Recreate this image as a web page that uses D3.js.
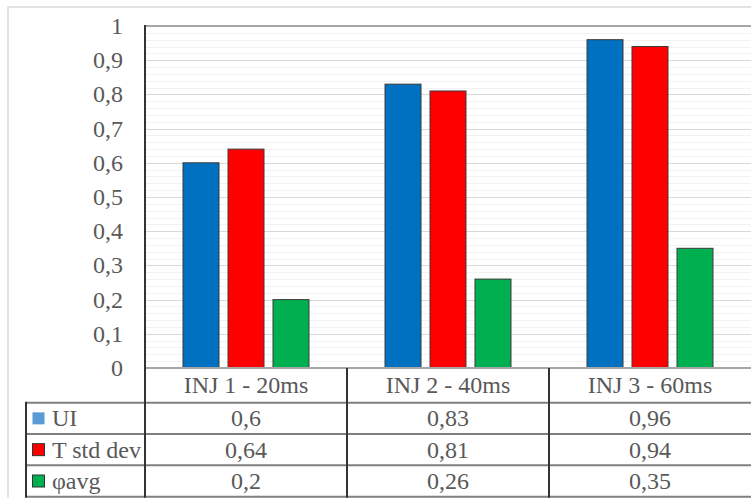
<!DOCTYPE html>
<html>
<head>
<meta charset="utf-8">
<script src="https://cdn.jsdelivr.net/npm/d3@7"></script>
</head>
<body style="margin:0;background:#fff">
<svg id="chart" width="751" height="498" style="display:block"></svg>
<script>
// Injection categories and series
const categories = ["INJ 1 - 20ms", "INJ 2 - 40ms", "INJ 3 - 60ms"];
const seriesNames = ["UI", "T std dev", "φavg"];
const uiValues = [0.6, 0.83, 0.96];
const tStdValues = [0.64, 0.81, 0.94];
const phiValues = [0.2, 0.26, 0.35];
const barColors = ["#0070C0", "#FF0000", "#00B050"];
const keyColors = ["#5B9BD5", "#FF0000", "#00B050"];
const yTicks = [0, 0.1, 0.2, 0.3, 0.4, 0.5, 0.6, 0.7, 0.8, 0.9, 1];

const series = seriesNames.map((name, i) => ({
  name,
  values: [uiValues, tStdValues, phiValues][i],
  bar: barColors[i],
  key: keyColors[i]
}));

const svg = d3.select("#chart");
const W = 751, H = 498;
const textColor = "#595959";
const serif = "Liberation Serif";
const fontSize = 24;

// shared text styling
const styleText = sel => sel
  .attr("font-family", serif)
  .style("font-family", serif)
  .attr("font-size", fontSize)
  .attr("fill", textColor);

// plot area and data table geometry
const plotLeft = 145, plotRight = 751, plotTop = 26, plotBottom = 368;
const tableLeft = 26;
const rowEdges = [368, 402.7, 434, 465.3, 496.7];

// outer chart frame
svg.append("rect").attr("x", 8).attr("y", 7).attr("width", W).attr("height", H)
  .attr("fill", "none").attr("stroke", "#d9d9d9").attr("stroke-width", 1.5);

const y = d3.scaleLinear().domain([0, 1]).range([plotBottom, plotTop]);
const x0 = d3.scaleBand().domain(categories).range([plotLeft, plotRight]).paddingInner(0).paddingOuter(0);

// minor gridlines
const minor = d3.range(0, 1.0001, 0.02);
svg.append("g").selectAll("line").data(minor).join("line")
  .attr("x1", plotLeft).attr("x2", plotRight)
  .attr("y1", d => Math.round(y(d)) + 0.5).attr("y2", d => Math.round(y(d)) + 0.5)
  .attr("stroke", "#f2f2f2").attr("stroke-width", 1);

// major gridlines
svg.append("g").selectAll("line").data(yTicks.slice(1, -1)).join("line")
  .attr("x1", plotLeft).attr("x2", plotRight)
  .attr("y1", d => Math.round(y(d)) + 0.5).attr("y2", d => Math.round(y(d)) + 0.5)
  .attr("stroke", "#d9d9d9").attr("stroke-width", 1);

// top line at 1
svg.append("line").attr("x1", plotLeft).attr("x2", plotRight)
  .attr("y1", y(1)).attr("y2", y(1)).attr("stroke", "#a6a6a6").attr("stroke-width", 2);

// y-axis tick labels
const fmt = v => d3.format("~g")(v).replace(".", ",");
svg.append("g").selectAll("text").data(yTicks).join("text")
  .attr("x", 123).attr("y", d => y(d) + 8)
  .attr("text-anchor", "end")
  .call(styleText).text(fmt);

// bars
const x1 = d3.scaleBand().domain(seriesNames).range([0, x0.bandwidth()]).paddingInner(0.2).paddingOuter(0.845);
const groups = svg.append("g").selectAll("g").data(categories).join("g")
  .attr("transform", d => `translate(${x0(d)},0)`);
groups.selectAll("rect").data((c, ci) => series.map(s => ({ s, v: s.values[ci] }))).join("rect")
  .attr("x", d => x1(d.s.name))
  .attr("width", x1.bandwidth())
  .attr("y", d => y(d.v))
  .attr("height", d => y(0) - y(d.v))
  .attr("fill", d => d.s.bar)
  .attr("stroke", "#3a3a3a").attr("stroke-width", 1);

// data table lines
const tl = svg.append("g");
rowEdges.forEach((ry, i) => {
  tl.append("line")
    .attr("x1", i === 0 ? plotLeft : tableLeft).attr("x2", W)
    .attr("y1", ry).attr("y2", ry)
    .attr("stroke", i === 0 ? "#a6a6a6" : "#808080").attr("stroke-width", 2);
});
// vertical separators
[plotLeft, x0(categories[1]), x0(categories[2])].forEach((vx, i) => {
  tl.append("line").attr("x1", vx).attr("x2", vx)
    .attr("y1", i === 0 ? plotTop - 1 : plotBottom).attr("y2", rowEdges[4] + 1)
    .attr("stroke", "#333").attr("stroke-width", 2);
});
tl.append("line").attr("x1", tableLeft).attr("x2", tableLeft)
  .attr("y1", rowEdges[1] - 1).attr("y2", rowEdges[4] + 1)
  .attr("stroke", "#333").attr("stroke-width", 2);

// category header row
svg.append("g").selectAll("text").data(categories).join("text")
  .attr("x", d => x0(d) + x0.bandwidth() / 2)
  .attr("y", 393)
  .attr("text-anchor", "middle")
  .call(styleText).text(d => d);

// series rows: legend key, name and values
series.forEach((s, i) => {
  const cy = (rowEdges[i + 1] + rowEdges[i + 2]) / 2;
  svg.append("rect").attr("x", 32.5).attr("y", cy - 6).attr("width", 12).attr("height", 12)
    .attr("fill", s.key).attr("stroke", i === 0 ? "none" : "#333").attr("stroke-width", 1);
  svg.append("text").attr("x", 52).attr("y", cy + 8)
    .call(styleText).text(s.name);
  categories.forEach((c, ci) => {
    svg.append("text")
      .attr("x", x0(c) + x0.bandwidth() / 2).attr("y", cy + 8)
      .attr("text-anchor", "middle")
      .call(styleText).text(fmt(s.values[ci]));
  });
});
</script>
</body>
</html>
